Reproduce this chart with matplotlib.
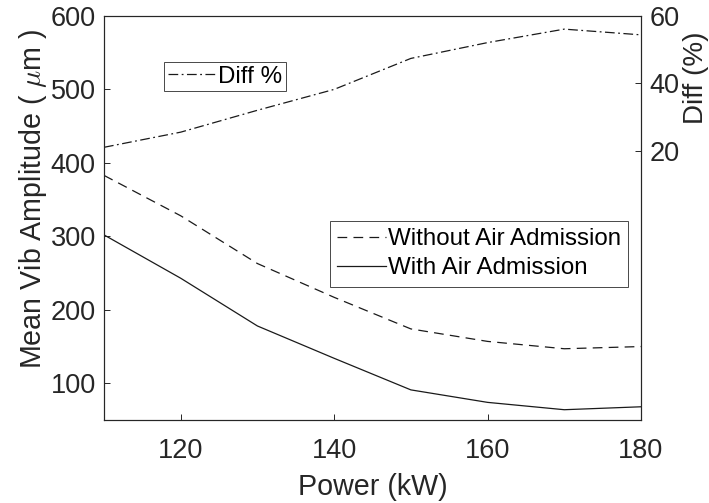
import matplotlib
matplotlib.use("Agg")
import matplotlib.pyplot as plt

plt.rcParams['font.family'] = ['Liberation Sans', 'DejaVu Sans']
plt.rcParams['mathtext.fontset'] = 'cm'
plt.rcParams['lines.scale_dashes'] = False

# data
power = [110, 120, 130, 140, 150, 160, 170, 180]
without_air = [383, 328, 263, 217, 174, 157, 147, 150]
with_air = [302, 243, 178, 134, 91, 74, 64, 68]
diff_pct = [21.0, 25.5, 32.0, 38.2, 47.4, 52.1, 56.1, 54.4]

grey = '#262626'
tick_fs = 19.5
label_fs = 20.6
legend_fs = 17.4

fig = plt.figure(figsize=(7.09, 5.03), dpi=100)
ax = fig.add_axes([104/709, 83/503, 537/709, 404/503])

l1, = ax.plot(power, without_air, color='#1a1a1a', lw=0.9, dashes=(7, 4.5),
              label='Without Air Admission')
l2, = ax.plot(power, with_air, color='#1a1a1a', lw=0.9, label='With Air Admission')
ax.set_xlim(110, 180)
ax.set_ylim(50, 600)
ax.set_xticks([120, 140, 160, 180])
ax.set_yticks([100, 200, 300, 400, 500, 600])
ax.tick_params(direction='in', length=4, width=0.7, colors=grey, labelsize=tick_fs,
               right=True, top=False)
ax.tick_params(axis='x', pad=13)
ax.tick_params(axis='y', pad=6)
ax.set_xlabel('Power (kW)', fontsize=label_fs, color=grey)
ax.set_ylabel(r'Mean Vib Amplitude ( $\mu$m )', fontsize=label_fs, color=grey)
ax.xaxis.set_label_coords(0.5, -0.132)
ax.yaxis.set_label_coords(-0.102, 0.548)
for s in ax.spines.values():
    s.set_color(grey)
    s.set_linewidth(0.8)

ax2 = ax.twinx()
l3, = ax2.plot(power, diff_pct, color='#1a1a1a', lw=0.9, dashes=(7, 2.5, 1.3, 2.5),
               label='Diff %')
ax2.set_ylim(-60, 60)
ax2.set_yticks([20, 40, 60])
ax2.tick_params(direction='in', length=4, width=0.7, colors=grey, labelsize=tick_fs, pad=6)
ax2.set_ylabel('Diff (%)', fontsize=label_fs - 0.6, color=grey, rotation=90)
ax2.yaxis.set_label_coords(1.079, 0.847)
for s in ax2.spines.values():
    s.set_color(grey)
    s.set_linewidth(0.8)

leg_kw = dict(fontsize=legend_fs, frameon=True, fancybox=False, edgecolor='#1a1a1a',
              handlelength=2.0, handletextpad=0.1, labelspacing=0.3,
              borderaxespad=0, loc='upper left')
lg1 = ax2.legend(handles=[l3], bbox_to_anchor=(0.1117, 0.886), borderpad=0.15, **leg_kw)
lg1.get_frame().set_linewidth(0.7)
lg2 = ax2.legend(handles=[l1, l2], bbox_to_anchor=(0.4209, 0.4926), borderpad=0.3, **leg_kw)
lg2.get_frame().set_linewidth(0.7)
ax2.add_artist(lg1)

fig.savefig('out.png', dpi=100)
